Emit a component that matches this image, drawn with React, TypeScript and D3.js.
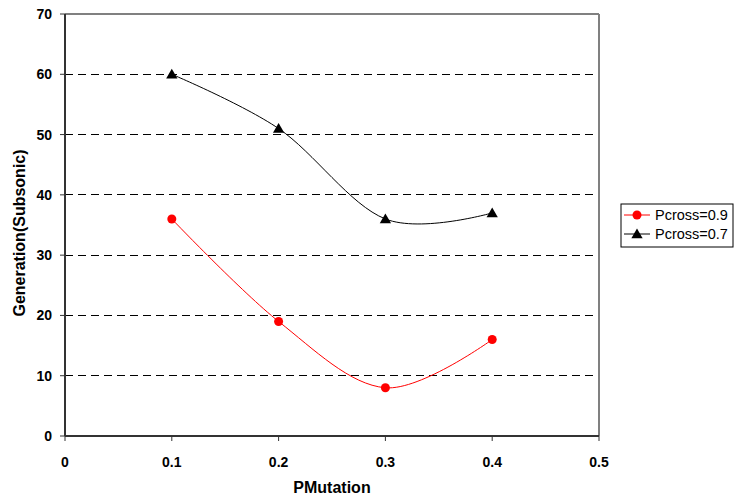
import React from "react";
import * as d3 from "d3";

const xValues = [0.1, 0.2, 0.3, 0.4];
const seriesNames = ["Pcross=0.9", "Pcross=0.7"];
const red09 = [36, 19, 8, 16];
const black07 = [60, 51, 36, 37];
const yTicks = [0, 10, 20, 30, 40, 50, 60, 70];
const xTicks = [0, 0.1, 0.2, 0.3, 0.4, 0.5];

export default function App() {
  const W = 734, H = 499;
  const L = 65, R = 599, T = 14, B = 436;
  const x = d3.scaleLinear().domain([0, 0.5]).range([L, R]);
  const y = d3.scaleLinear().domain([0, 70]).range([B, T]);
  const line = d3
    .line<number>()
    .x((_, i) => x(xValues[i]))
    .y((d) => y(d))
    .curve(d3.curveCatmullRom.alpha(0));
  const tri = d3.symbol().type(d3.symbolTriangle).size(55)()!;
  const font = "'Liberation Sans', Arial, sans-serif";
  return (
    <svg width={W} height={H} style={{ position: "absolute", left: 0, top: 0, background: "#fff" }}>
      <rect x={0} y={0} width={W} height={H} fill="#fff" />
      {yTicks.filter((t) => t > 0 && t < 70).map((t) => (
        <line key={"g" + t} x1={L} x2={R} y1={y(t)} y2={y(t)} stroke="#000" strokeWidth={1} strokeDasharray="8,5" shapeRendering="crispEdges" />
      ))}
      <line x1={L} x2={R} y1={T} y2={T} stroke="#808080" strokeWidth={2} />
      <line x1={R} x2={R} y1={T} y2={B} stroke="#808080" strokeWidth={2} />
      <line x1={L} x2={L} y1={T} y2={B} stroke="#333" strokeWidth={2} />
      <line x1={L} x2={R} y1={B} y2={B} stroke="#333" strokeWidth={2} />
      {yTicks.map((t) => (
        <g key={"y" + t}>
          <line x1={L - 5} x2={L} y1={y(t)} y2={y(t)} stroke="#333" strokeWidth={1} />
          <text x={52} y={y(t) + 5} textAnchor="end" fontFamily={font} fontWeight="bold" fontSize={14}>
            {t}
          </text>
        </g>
      ))}
      {xTicks.map((t) => (
        <g key={"x" + t}>
          <line x1={x(t)} x2={x(t)} y1={B} y2={B + 5} stroke="#333" strokeWidth={1} />
          <text x={x(t)} y={467} textAnchor="middle" fontFamily={font} fontWeight="bold" fontSize={14}>
            {t}
          </text>
        </g>
      ))}
      <text x={332} y={493} textAnchor="middle" fontFamily={font} fontWeight="bold" fontSize={16}>
        PMutation
      </text>
      <text transform={`translate(25,233) rotate(-90)`} textAnchor="middle" fontFamily={font} fontWeight="bold" fontSize={16}>
        Generation(Subsonic)
      </text>
      <path d={line(black07)!} fill="none" stroke="#000" strokeWidth={1} />
      <path d={line(red09)!} fill="none" stroke="#ff0000" strokeWidth={1} />
      {black07.map((v, i) => (
        <path key={"t" + i} d={tri} transform={`translate(${x(xValues[i])},${y(v) + 1})`} fill="#000" />
      ))}
      {red09.map((v, i) => (
        <circle key={"c" + i} cx={x(xValues[i])} cy={y(v)} r={4.5} fill="#ff0000" />
      ))}
      <g>
        <rect x={621} y={204} width={112} height={43} fill="#fff" stroke="#000" strokeWidth={1} />
        <line x1={624} x2={650} y1={215} y2={215} stroke="#ff0000" strokeWidth={1} />
        <circle cx={637} cy={215} r={4.5} fill="#ff0000" />
        <text x={655} y={220} fontFamily={font} fontSize={14.5}>{seriesNames[0]}</text>
        <line x1={624} x2={650} y1={234} y2={234} stroke="#000" strokeWidth={1} />
        <path d={tri} transform={`translate(637,235)`} fill="#000" />
        <text x={655} y={239} fontFamily={font} fontSize={14.5}>{seriesNames[1]}</text>
      </g>
    </svg>
  );
}
